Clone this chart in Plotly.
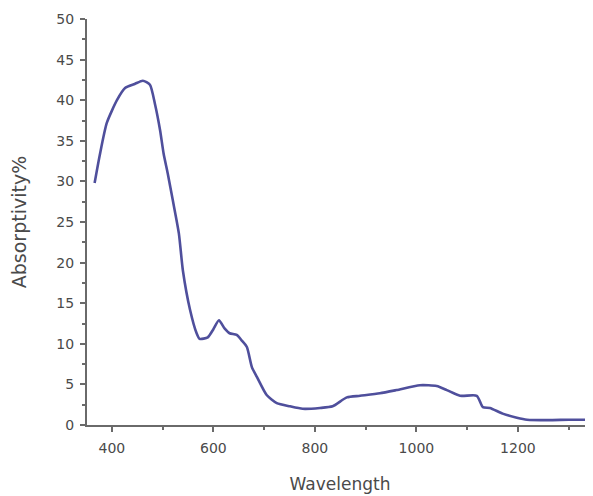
import plotly.graph_objects as go

wavelength = [366, 376, 390, 410, 426, 445, 461, 475, 485, 495, 502, 510, 520, 532, 540, 554, 567, 573,
              589, 600, 611, 622, 632, 646, 656, 666, 676, 686, 705, 725, 751, 776, 810, 835, 863, 889,
              928, 961, 1007, 1040, 1060, 1086, 1119, 1131, 1145, 1170, 1198, 1218, 1260, 1300, 1334]
absorptivity = [29.8, 33.2, 37.2, 40.0, 41.5, 42.0, 42.4, 41.9, 39.5, 36.3, 33.4, 31.0, 27.7, 23.6, 19.0,
                14.2, 11.3, 10.6, 10.8, 11.8, 12.9, 11.9, 11.3, 11.1, 10.4, 9.6, 7.1, 5.9, 3.7, 2.7, 2.3,
                2.0, 2.1, 2.3, 3.4, 3.6, 3.9, 4.3, 4.9, 4.8, 4.3, 3.6, 3.6, 2.2, 2.1, 1.4, 0.9, 0.65, 0.6,
                0.65, 0.65]

x_ticks = [400, 600, 800, 1000, 1200]
y_ticks = [0, 5, 10, 15, 20, 25, 30, 35, 40, 45, 50]

axis_color = "#6a6a6a"
text_color = "#4a4a4a"
font_family = "DejaVu Sans, Liberation Sans, Arial, sans-serif"

fig = go.Figure(go.Scatter(
    x=wavelength, y=absorptivity, mode="lines",
    line=dict(color="#4f4f9c", width=2.6, shape="spline", smoothing=0.6),
    showlegend=False,
))

fig.update_layout(
    width=585, height=488,
    margin=dict(l=79, r=0, t=11, b=71),
    paper_bgcolor="white", plot_bgcolor="white",
    font=dict(family=font_family, size=14, color=text_color),
    xaxis=dict(
        range=[351, 1348], tickvals=x_ticks, ticks="outside", ticklen=5, tickwidth=1.5,
        tickcolor=axis_color, showline=True, linecolor=axis_color, linewidth=2,
        showgrid=False, zeroline=False, ticklabelstandoff=4,
        minor=dict(dtick=100, tick0=0, ticks="outside", ticklen=3, tickcolor=axis_color),
        title=dict(text="Wavelength", font=dict(size=17, color=text_color), standoff=23),
    ),
    yaxis=dict(
        range=[0, 50], tickvals=y_ticks, ticks="outside", ticklen=5, tickwidth=1.5,
        tickcolor=axis_color, showline=True, linecolor=axis_color, linewidth=2,
        showgrid=False, zeroline=False, ticklabelstandoff=3,
        minor=dict(dtick=2.5, tick0=0, ticks="outside", ticklen=3, tickcolor=axis_color),
        title=dict(text="Absorptivity%", font=dict(size=19, color=text_color), standoff=26),
    ),
)

fig.write_html("out.html")
